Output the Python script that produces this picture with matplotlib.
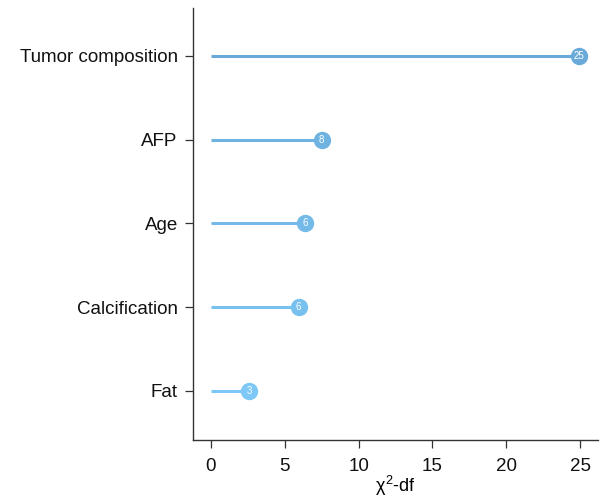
import matplotlib
matplotlib.use("Agg")
import matplotlib.pyplot as plt
import numpy as np

plt.rcParams['font.family'] = ['Liberation Sans', 'DejaVu Sans']
plt.rcParams['mathtext.fontset'] = 'custom'
plt.rcParams['mathtext.rm'] = 'Liberation Sans'
plt.rcParams['mathtext.it'] = 'Liberation Sans'

# data, top to bottom
factors = ["Tumor composition", "AFP", "Age", "Calcification", "Fat"]
chi2_df = [24.9, 7.5, 6.4, 5.95, 2.6]
colors = ["#6aaad8", "#6fb3e1", "#74bae8", "#78c1ef", "#7dc8f6"]

fig = plt.figure(figsize=(6, 5.03), dpi=100)
ax = fig.add_axes([0.3217, 0.1252, 0.675, 0.859])

ypos = np.arange(len(factors))[::-1] + 1
for y, v, c in zip(ypos, chi2_df, colors):
    ax.plot([0, v], [y, y], color=c, lw=2.2, solid_capstyle='butt', zorder=2)
    ax.plot(v, y, 'o', color=c, markersize=11.5, zorder=3)
    ax.text(v, y, f"{round(v):d}", color='white', fontsize=7,
            ha='center', va='center', zorder=4)

ax.set_xlim(-1.2, 26.2)
ax.set_ylim(0.415, 5.57)
ax.set_yticks(ypos)
ax.set_yticklabels(factors)
ax.set_xticks([0, 5, 10, 15, 20, 25])
ax.set_xlabel(r"$\chi^2$-df", fontsize=13, labelpad=-1)

for s in ['top', 'right']:
    ax.spines[s].set_visible(False)
for s in ['left', 'bottom']:
    ax.spines[s].set_color('#333333')
    ax.spines[s].set_linewidth(1.0)
ax.tick_params(axis='both', labelsize=13.5, length=6, width=0.9,
               color='#333333', labelcolor='#111111')
ax.tick_params(axis='y', pad=5)
ax.tick_params(axis='x', pad=7)

fig.savefig("out.png", dpi=100)
